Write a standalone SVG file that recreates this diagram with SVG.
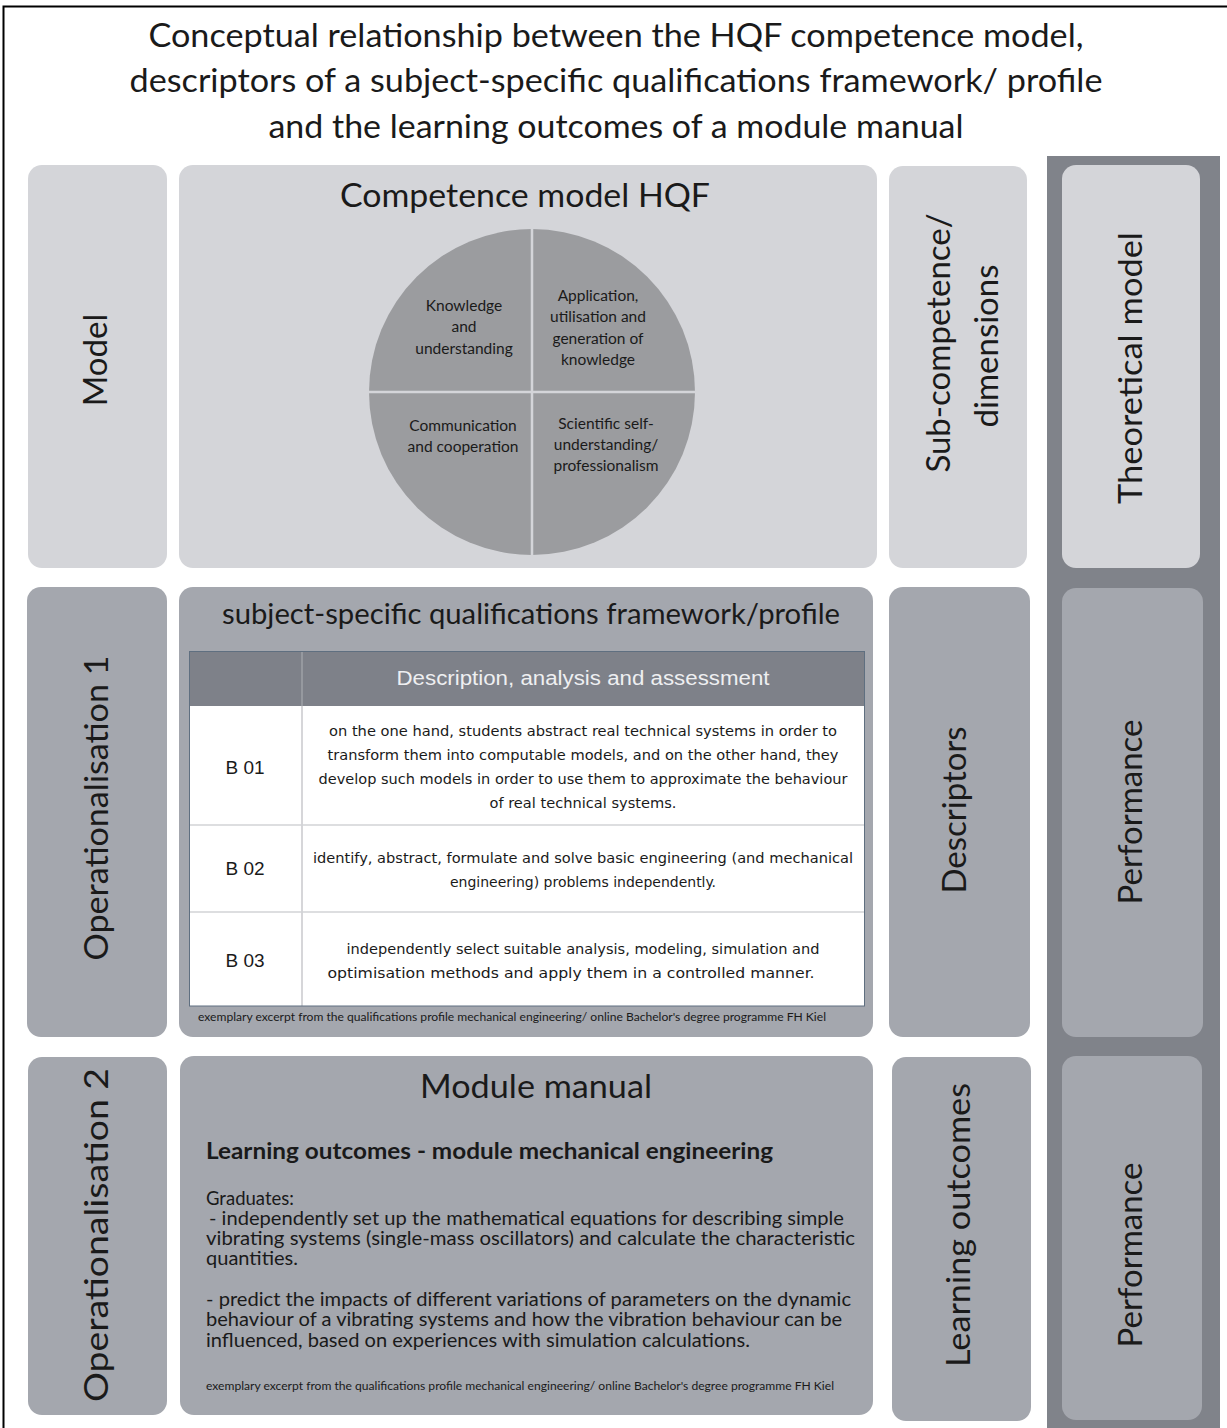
<svg xmlns="http://www.w3.org/2000/svg" width="1227" height="1428" viewBox="0 0 1227 1428">
<style>
.t{font-family:Lato,"Open Sans","Liberation Sans",sans-serif;fill:#1a1a1a}
.big{font-size:32px}
.vl{font-size:33px;text-anchor:middle}
.pie{font-size:15.5px;text-anchor:middle}
.lt{fill:#d4d5d9}
.md{fill:#a4a7ae}
.row{font-family:"DejaVu Sans Condensed","DejaVu Sans",sans-serif;font-size:14.5px;fill:#1a1a1a;text-anchor:middle}
.lab{font-family:"Liberation Sans",Arial,sans-serif;font-size:19px;fill:#1a1a1a;text-anchor:middle}
.body{font-size:18.5px}
.foot{font-size:11px}
</style>
<rect width="1227" height="1428" fill="#ffffff"/>
<path d="M3.5 1428 V6.5 H1227" fill="none" stroke="#000" stroke-width="2"/>
<g id="title">
<text class="t big" x="616" y="47" text-anchor="middle" textLength="935" lengthAdjust="spacingAndGlyphs">Conceptual relationship between the HQF competence model,</text>
<text class="t big" x="616" y="92" text-anchor="middle" textLength="973" lengthAdjust="spacingAndGlyphs">descriptors of a subject-specific qualifications framework/ profile</text>
<text class="t big" x="616" y="138" text-anchor="middle" textLength="695" lengthAdjust="spacingAndGlyphs">and the learning outcomes of a module manual</text>
</g>
<g id="column">
<rect x="1047" y="156" width="173" height="1272" fill="#80838a"/>
</g>
<g id="model">
<rect class="lt" x="28" y="165" width="139" height="403" rx="14"/>
<text class="t vl" transform="translate(107,360) rotate(-90)">Model</text>
</g>
<g id="competence-model">
<rect class="lt" x="179" y="165" width="698" height="403" rx="14"/>
<text class="t big" x="525" y="207" text-anchor="middle" textLength="370" lengthAdjust="spacingAndGlyphs">Competence model HQF</text>
<circle cx="532" cy="392" r="163" fill="#9b9c9f"/>
<path d="M532 229 V555 M369 392 H695" stroke="#d4d5d9" stroke-width="2.5"/>
<text class="t pie" x="464" y="311">Knowledge</text>
<text class="t pie" x="464" y="332">and</text>
<text class="t pie" x="464" y="354">understanding</text>
<text class="t pie" x="598" y="301">Application,</text>
<text class="t pie" x="598" y="322">utilisation and</text>
<text class="t pie" x="598" y="344">generation of</text>
<text class="t pie" x="598" y="365">knowledge</text>
<text class="t pie" x="463" y="431">Communication</text>
<text class="t pie" x="463" y="452">and cooperation</text>
<text class="t pie" x="606" y="429">Scientific self-</text>
<text class="t pie" x="606" y="450">understanding/</text>
<text class="t pie" x="606" y="471">professionalism</text>
</g>
<g id="sub-competence">
<rect class="lt" x="889" y="166" width="138" height="402" rx="14"/>
<text class="t vl" transform="translate(950,343) rotate(-90)">Sub-competence/</text>
<text class="t vl" transform="translate(998,346) rotate(-90)">dimensions</text>
</g>
<g id="theoretical-model">
<rect class="lt" x="1062" y="165" width="138" height="403" rx="14"/>
<text class="t vl" transform="translate(1142,368) rotate(-90)" textLength="272" lengthAdjust="spacingAndGlyphs">Theoretical model</text>
</g>
<g id="operationalisation-1">
<rect class="md" x="27" y="587" width="140" height="450" rx="14"/>
<text class="t vl" transform="translate(108,808) rotate(-90)" textLength="305" lengthAdjust="spacingAndGlyphs">Operationalisation 1</text>
</g>
<g id="qualifications-framework">
<rect class="md" x="179" y="587" width="694" height="450" rx="14"/>
<text class="t" x="531" y="624" font-size="28" text-anchor="middle" textLength="618" lengthAdjust="spacingAndGlyphs">subject-specific qualifications framework/profile</text>
<rect x="189" y="651" width="676" height="355" fill="#ffffff"/>
<rect x="189" y="651" width="676" height="55" fill="#7e8189"/>
<path d="M302 651 V1006" stroke="#c8c9cc" stroke-width="1.5"/>
<path d="M302 651 V706" stroke="#8c8f96" stroke-width="1.5"/>
<path d="M189 825 H865 M189 912 H865" stroke="#d2d3d6" stroke-width="1.5"/>
<rect x="189.5" y="651.5" width="675" height="354.5" fill="none" stroke="#5f6f80" stroke-width="1"/>
<text x="583" y="685" font-family="'Liberation Sans',Arial,sans-serif" font-size="20" fill="#eeeff1" text-anchor="middle" textLength="373" lengthAdjust="spacingAndGlyphs">Description, analysis and assessment</text>
<text class="lab" x="245" y="774">B 01</text>
<text class="row" x="583" y="736" textLength="508" lengthAdjust="spacingAndGlyphs">on the one hand, students abstract real technical systems in order to</text>
<text class="row" x="583" y="760" textLength="511" lengthAdjust="spacingAndGlyphs">transform them into computable models, and on the other hand, they</text>
<text class="row" x="583" y="784" textLength="529" lengthAdjust="spacingAndGlyphs">develop such models in order to use them to approximate the behaviour</text>
<text class="row" x="583" y="808" textLength="187" lengthAdjust="spacingAndGlyphs">of real technical systems.</text>
<text class="lab" x="245" y="875">B 02</text>
<text class="row" x="583" y="863" textLength="540" lengthAdjust="spacingAndGlyphs">identify, abstract, formulate and solve basic engineering (and mechanical</text>
<text class="row" x="583" y="887" textLength="266" lengthAdjust="spacingAndGlyphs">engineering) problems independently.</text>
<text class="lab" x="245" y="967">B 03</text>
<text class="row" x="583" y="954" textLength="473" lengthAdjust="spacingAndGlyphs">independently select suitable analysis, modeling, simulation and</text>
<text class="row" x="571" y="978" textLength="487" lengthAdjust="spacingAndGlyphs">optimisation methods and apply them in a controlled manner.</text>
<text class="t foot" x="198" y="1021" textLength="628" lengthAdjust="spacingAndGlyphs">exemplary excerpt from the qualifications profile mechanical engineering/ online Bachelor's degree programme FH Kiel</text>
</g>
<g id="descriptors">
<rect class="md" x="889" y="587" width="141" height="450" rx="14"/>
<text class="t vl" transform="translate(966,810) rotate(-90)">Descriptors</text>
</g>
<g id="performance-1">
<rect class="md" x="1062" y="588" width="141" height="449" rx="14"/>
<text class="t vl" transform="translate(1142,812) rotate(-90)">Performance</text>
</g>
<g id="operationalisation-2">
<rect class="md" x="28" y="1057" width="139" height="358" rx="14"/>
<text class="t vl" transform="translate(108,1235) rotate(-90)" textLength="334" lengthAdjust="spacingAndGlyphs">Operationalisation 2</text>
</g>
<g id="module-manual">
<rect class="md" x="180" y="1056" width="693" height="359" rx="14"/>
<text class="t big" x="536" y="1098" text-anchor="middle" textLength="232" lengthAdjust="spacingAndGlyphs">Module manual</text>
<text class="t" x="206" y="1159" font-size="22" font-weight="bold" textLength="567" lengthAdjust="spacingAndGlyphs">Learning outcomes - module mechanical engineering</text>
<text class="t body" x="206" y="1205">Graduates:</text>
<text class="t body" x="209" y="1225" textLength="635" lengthAdjust="spacingAndGlyphs">- independently set up the mathematical equations for describing simple</text>
<text class="t body" x="206" y="1245" textLength="649" lengthAdjust="spacingAndGlyphs">vibrating systems (single-mass oscillators) and calculate the characteristic</text>
<text class="t body" x="206" y="1265" textLength="92" lengthAdjust="spacingAndGlyphs">quantities.</text>
<text class="t body" x="206" y="1306" textLength="645" lengthAdjust="spacingAndGlyphs">- predict the impacts of different variations of parameters on the dynamic</text>
<text class="t body" x="206" y="1326" textLength="636" lengthAdjust="spacingAndGlyphs">behaviour of a vibrating systems and how the vibration behaviour can be</text>
<text class="t body" x="206" y="1347" textLength="544" lengthAdjust="spacingAndGlyphs">influenced, based on experiences with simulation calculations.</text>
<text class="t foot" x="206" y="1390" textLength="628" lengthAdjust="spacingAndGlyphs">exemplary excerpt from the qualifications profile mechanical engineering/ online Bachelor's degree programme FH Kiel</text>
</g>
<g id="learning-outcomes">
<rect class="md" x="892" y="1057" width="139" height="364" rx="14"/>
<text class="t vl" transform="translate(970,1225) rotate(-90)" textLength="284" lengthAdjust="spacingAndGlyphs">Learning outcomes</text>
</g>
<g id="performance-2">
<rect class="md" x="1062" y="1056" width="140" height="364" rx="14"/>
<text class="t vl" transform="translate(1142,1255) rotate(-90)">Performance</text>
</g>
<g id="connectors"></g>
</svg>
